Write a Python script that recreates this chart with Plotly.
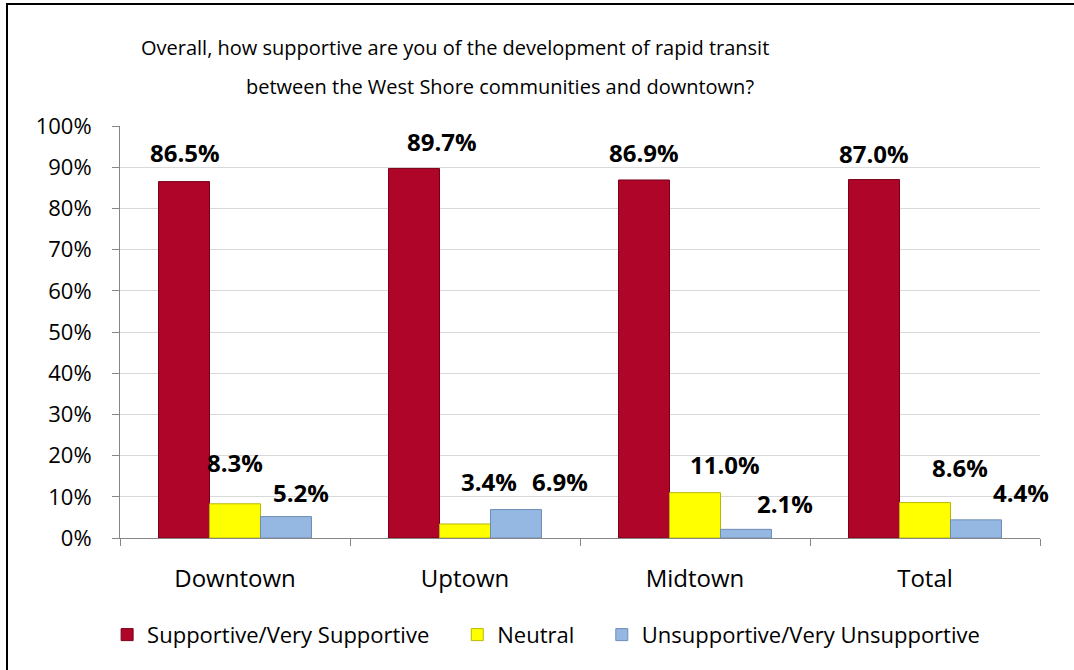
import plotly.graph_objects as go

# Survey results by area (percent of respondents)
areas = ["Downtown", "Uptown", "Midtown", "Total"]
supportive = [86.5, 89.7, 86.9, 87.0]
neutral = [8.3, 3.4, 11.0, 8.6]
unsupportive = [5.2, 6.9, 2.1, 4.4]
series_names = ["Supportive/Very Supportive", "Neutral", "Unsupportive/Very Unsupportive"]
y_ticks = list(range(0, 101, 10))

question_lines = [
    "Overall, how supportive are you of the development of rapid transit",
    "between the West Shore communities and downtown?",
]

# styling
FONT = "Open Sans"
fills = ["#AE0528", "#FFFF00", "#95B8E3"]
edges = ["#7A0019", "#B8B800", "#6E8DB5"]
BARGAP = 0.335
# per-label nudges (pixels) so labels sit clear of neighbouring bars
label_dx = [[1, 28, 0, 0], [0, 24, 30, 35], [15, 44, 39, 45]]
label_dy = [[29, 27, 27, 26], [41, 42, 28, 35], [24, 28, 26, 27]]
legend_x = [-0.014, 0.3666, 0.5237]

series = [supportive, neutral, unsupportive]
fig = go.Figure()
for j, (name, vals) in enumerate(zip(series_names, series)):
    fig.add_trace(go.Bar(
        x=areas, y=vals, name=name,
        marker=dict(color=fills[j], line=dict(color=edges[j], width=1)),
        legend="legend" if j == 0 else f"legend{j + 1}",
        hoverinfo="skip",
    ))

bar_w = (1 - BARGAP) / 3
annotations = []
for j, vals in enumerate(series):
    for i, v in enumerate(vals):
        annotations.append(dict(
            x=i + (j - 1) * bar_w, y=v, xref="x", yref="y",
            text=f"{v:.1f}%", showarrow=False,
            xanchor="center", yanchor="middle",
            xshift=label_dx[j][i], yshift=label_dy[j][i],
            font=dict(family=FONT, size=24, color="#000000", weight="bold"),
        ))

for line, xc, yc in zip(question_lines, [0.3645, 0.413], [1.19, 1.095]):
    annotations.append(dict(
        x=xc, y=yc, xref="paper", yref="paper", text=line, showarrow=False,
        xanchor="center", yanchor="middle",
        font=dict(family=FONT, size=20, color="#000000"),
    ))

legend_common = dict(
    orientation="h", yanchor="middle", y=-0.235, xanchor="left",
    font=dict(family=FONT, size=22, color="#000000"),
    bgcolor="rgba(0,0,0,0)", itemclick=False, itemdoubleclick=False,
)
legends = {}
for j, lx in enumerate(legend_x):
    key = "legend" if j == 0 else f"legend{j + 1}"
    legends[key] = dict(legend_common, x=lx)

# outer frame: left and top edges only, running to the page edges
fx = -113 / 920
fy = (538 - 4) / 412
fx_end = (1074 - 120) / 920
fy_end = -132 / 412
frame_path = f"M {fx},{fy_end} L {fx},{fy} L {fx_end},{fy}"

fig.update_layout(
    width=1074, height=670,
    margin=dict(l=120, r=34, t=126, b=132),
    paper_bgcolor="white", plot_bgcolor="white",
    barmode="group", bargap=BARGAP, bargroupgap=0,
    showlegend=True,
    annotations=annotations,
    shapes=[dict(
        type="path", xref="paper", yref="paper", path=frame_path,
        line=dict(color="#000000", width=2), layer="below",
    )],
    **legends,
)
fig.update_xaxes(
    type="category", showline=True, linecolor="#868686", linewidth=1,
    ticks="outside", tickson="boundaries", ticklen=7, tickcolor="#868686",
    ticklabelstandoff=19,
    showgrid=False, tickfont=dict(family=FONT, size=24, color="#000000"),
    range=[-0.5, 3.5],
)
fig.update_yaxes(
    range=[0, 100], tickvals=y_ticks, ticktext=[f"{t}%" for t in y_ticks],
    showline=True, linecolor="#868686", linewidth=1,
    ticks="outside", ticklen=7, tickcolor="#868686",
    ticklabelstandoff=16,
    showgrid=True, gridcolor="#D9D9D9", gridwidth=1, zeroline=False,
    tickfont=dict(family=FONT, size=22, color="#000000"),
)

fig.write_html("out.html")
